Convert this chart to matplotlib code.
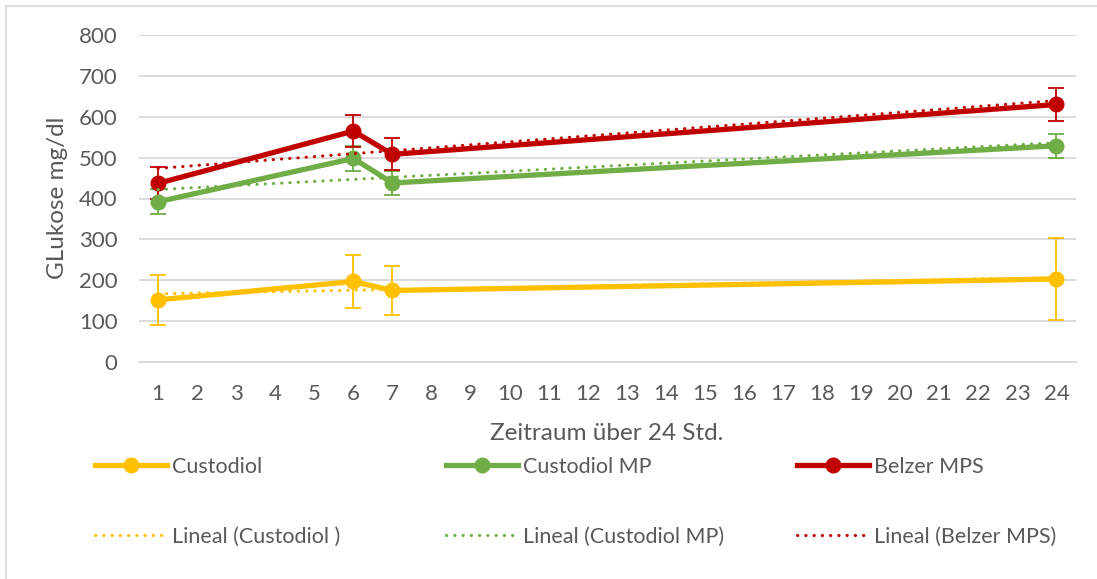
import numpy as np
import matplotlib
matplotlib.use("Agg")
import matplotlib.pyplot as plt
from matplotlib.lines import Line2D

plt.rcParams['font.family'] = ['Lato', 'DejaVu Sans']

# ---- data ----
categories = list(range(1, 25))
x_points = [1, 6, 7, 24]
custodiol = [152, 197, 175, 203]
custodiol_err = [62, 65, 59, 100]
custodiol_mp = [392, 498, 438, 529]
custodiol_mp_err = [31, 30, 30, 30]
belzer = [437, 565, 508, 630]
belzer_err = [39, 40, 39, 40]
series_names = ["Custodiol", "Custodiol MP", "Belzer MPS"]
trend_names = ["Lineal (Custodiol )", "Lineal (Custodiol MP)", "Lineal (Belzer MPS)"]
colors = ["#FFC000", "#70AD47", "#C00000"]
y_ticks = [0, 100, 200, 300, 400, 500, 600, 700, 800]

W, H = 1097, 579
fig = plt.figure(figsize=(W / 100, H / 100), dpi=100)
ax = fig.add_axes([138.5 / W, 1 - 362 / H, (1076 - 138.5) / W, (362 - 35) / H])

txt = "#595959"
all_vals = [custodiol, custodiol_mp, belzer]
all_errs = [custodiol_err, custodiol_mp_err, belzer_err]

for vals, errs, col in zip(all_vals, all_errs, colors):
    ax.errorbar(x_points, vals, yerr=errs, fmt='none', ecolor=col, elinewidth=1.3,
                capsize=5.5, capthick=1.3, zorder=3)
    ax.plot(x_points, vals, color=col, lw=3.8, marker='o', ms=10.5,
            solid_capstyle='round', solid_joinstyle='round', zorder=4)

xx = np.array([categories[0], categories[-1]], dtype=float)
for vals, col in zip(all_vals, colors):
    k, b = np.polyfit(x_points, vals, 1)
    ax.plot(xx, k * xx + b, color=col, lw=2.2, linestyle=(0, (0.1, 2.6)),
            dash_capstyle='round', zorder=5)

ax.set_xlim(0.5, 24.5)
ax.set_ylim(0, 800)
ax.set_yticks(y_ticks)
ax.set_xticks(categories)
ax.set_xticklabels([str(c) for c in categories])
ax.grid(axis='y', color='#D9D9D9', lw=1.3)
ax.set_axisbelow(True)
for s in ['top', 'right', 'left']:
    ax.spines[s].set_visible(False)
ax.spines['bottom'].set_color('#D9D9D9')
ax.spines['bottom'].set_linewidth(1.3)
ax.tick_params(axis='both', length=0, labelsize=16, colors=txt)
ax.tick_params(axis='y', pad=15)
ax.tick_params(axis='x', pad=16)

fig.text(57 / W, 1 - 198 / H, "GLukose mg/dl", rotation=90, ha='center', va='center',
         fontsize=17.5, color=txt)
fig.text(607 / W, 1 - 433 / H, "Zeitraum über 24 Std.", ha='center', va='center',
         fontsize=17.5, color=txt)

# chart border
fig.add_artist(Line2D([6 / W, 6 / W], [0, 1 - 6 / H], color='#D9D9D9', lw=1.3,
                      transform=fig.transFigure))
fig.add_artist(Line2D([6 / W, 1], [1 - 6 / H, 1 - 6 / H], color='#D9D9D9', lw=1.3,
                      transform=fig.transFigure))

# legends (one per column)
col_x = [95, 446, 797]
for name, tname, col, cx in zip(series_names, trend_names, colors, col_x):
    h1 = Line2D([], [], color=col, lw=3.8, marker='o', ms=10.5)
    h2 = Line2D([], [], color=col, lw=2.2, linestyle=(0, (0.1, 2.6)), dash_capstyle='round')
    fig.legend([h1, h2], [name, tname], loc='upper left',
               bbox_to_anchor=(cx / W, 1 - 457 / H), frameon=False,
               fontsize=15.5, handlelength=3.35, handletextpad=0.23,
               labelspacing=2.32, borderpad=0, borderaxespad=0, labelcolor=txt)

fig.savefig("out.png", dpi=100, facecolor='white')
